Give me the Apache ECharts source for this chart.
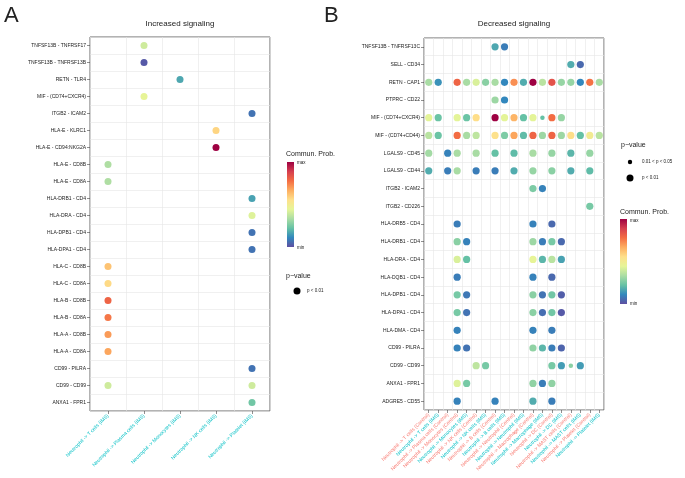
<!DOCTYPE html>
<html><head><meta charset="utf-8">
<script src="https://cdn.jsdelivr.net/npm/echarts@6/dist/echarts.min.js"></script>
<style>html,body{margin:0;padding:0;background:#fff}#c{width:685px;height:478px}</style>
</head><body><div id="c"></div>
<script>
// ---------- DATA ----------
const leftCols = ['Neutrophil -> T cells (IMS)','Neutrophil -> Plasma cells (IMS)','Neutrophil -> Monocytes (IMS)','Neutrophil -> NK cells (IMS)','Neutrophil -> Platelet (IMS)'];
const leftRows = ['TNFSF13B - TNFRSF17','TNFSF13B - TNFRSF13B','RETN - TLR4','MIF - (CD74+CXCR4)','ITGB2 - ICAM2','HLA-E - KLRC1','HLA-E - CD94:NKG2A','HLA-E - CD8B','HLA-E - CD8A','HLA-DRB1 - CD4','HLA-DRA - CD4','HLA-DPB1 - CD4','HLA-DPA1 - CD4','HLA-C - CD8B','HLA-C - CD8A','HLA-B - CD8B','HLA-B - CD8A','HLA-A - CD8B','HLA-A - CD8A','CD99 - PILRA','CD99 - CD99','ANXA1 - FPR1'];
// communication probability (scaled 0 = min, 1 = max), one array per row, null = no interaction
const leftProb = [
  [null,0.40,null,null,null],
  [null,0.02,null,null,null],
  [null,null,0.17,null,null],
  [null,0.45,null,null,null],
  [null,null,null,null,0.07],
  [null,null,null,0.58,null],
  [null,null,null,1.00,null],
  [0.34,null,null,null,null],
  [0.34,null,null,null,null],
  [null,null,null,null,0.16],
  [null,null,null,null,0.43],
  [null,null,null,null,0.07],
  [null,null,null,null,0.07],
  [0.62,null,null,null,null],
  [0.57,null,null,null,null],
  [0.80,null,null,null,null],
  [0.76,null,null,null,null],
  [0.70,null,null,null,null],
  [0.68,null,null,null,null],
  [null,null,null,null,0.07],
  [0.40,null,null,null,0.40],
  [null,null,null,null,0.24]
];

const rightCols = ['Neutrophil -> T cells (Control)','Neutrophil -> T cells (IMS)','Neutrophil -> Plasma cells (Control)','Neutrophil -> Monocytes (Control)','Neutrophil -> Monocytes (IMS)','Neutrophil -> NK cells (Control)','Neutrophil -> NK cells (IMS)','Neutrophil -> B cells (Control)','Neutrophil -> B cells (IMS)','Neutrophil -> Neutrophil (Control)','Neutrophil -> Neutrophil (IMS)','Neutrophil -> Macrophage (Control)','Neutrophil -> Macrophage (IMS)','Neutrophil -> DC (Control)','Neutrophil -> DC (IMS)','Neutrophil -> MAST cells (Control)','Neutrophil -> MAST cells (IMS)','Neutrophil -> Platelet (Control)','Neutrophil -> Platelet (IMS)'];
const rightRows = ['TNFSF13B - TNFRSF13C','SELL - CD34','RETN - CAP1','PTPRC - CD22','MIF - (CD74+CXCR4)','MIF - (CD74+CD44)','LGALS9 - CD45','LGALS9 - CD44','ITGB2 - ICAM2','ITGB2 - CD226','HLA-DRB5 - CD4','HLA-DRB1 - CD4','HLA-DRA - CD4','HLA-DQB1 - CD4','HLA-DPB1 - CD4','HLA-DPA1 - CD4','HLA-DMA - CD4','CD99 - PILRA','CD99 - CD99','ANXA1 - FPR1','ADGRE5 - CD55'];
const _ = null;
const rightProb = [
  [_,_,_,_,_,_,_,0.17,0.09,_,_,_,_,_,_,_,_,_,_],
  [_,_,_,_,_,_,_,_,_,_,_,_,_,_,_,0.18,0.05,_,_],
  [0.33,0.13,_,0.80,0.33,0.42,0.28,0.33,0.11,0.72,0.18,1.00,0.36,0.84,0.30,0.30,0.11,0.77,0.33],
  [_,_,_,_,_,_,_,0.31,0.11,_,_,_,_,_,_,_,_,_,_],
  [0.44,0.23,_,0.44,0.23,0.56,_,1.00,0.44,0.65,0.22,0.44,0.22,0.78,0.30,_,_,_,_],
  [0.36,0.23,_,0.78,0.33,0.37,_,0.55,0.26,0.68,0.21,0.80,0.31,0.80,0.31,0.56,0.22,0.50,0.36],
  [0.32,_,0.10,0.33,_,0.33,_,0.22,_,0.21,_,0.33,_,0.30,_,0.20,_,0.30,_],
  [0.18,_,0.09,0.33,_,0.09,_,0.09,_,0.18,_,0.30,_,0.28,_,0.18,_,0.21,_],
  [_,_,_,_,_,_,_,_,_,_,_,0.26,0.10,_,_,_,_,_,_],
  [_,_,_,_,_,_,_,_,_,_,_,_,_,_,_,_,_,0.25,_],
  [_,_,_,0.09,_,_,_,_,_,_,_,0.10,_,0.05,_,_,_,_,_],
  [_,_,_,0.28,0.10,_,_,_,_,_,_,0.31,0.09,0.25,0.05,_,_,_,_],
  [_,_,_,0.42,0.22,_,_,_,_,_,_,0.45,0.20,0.36,0.16,_,_,_,_],
  [_,_,_,0.09,_,_,_,_,_,_,_,0.10,_,0.05,_,_,_,_,_],
  [_,_,_,0.25,0.08,_,_,_,_,_,_,0.28,0.07,0.24,0.03,_,_,_,_],
  [_,_,_,0.25,0.07,_,_,_,_,_,_,0.28,0.06,0.24,0.02,_,_,_,_],
  [_,_,_,0.10,_,_,_,_,_,_,_,0.10,_,0.09,_,_,_,_,_],
  [_,_,_,0.10,0.07,_,_,_,_,_,_,0.29,0.20,0.09,0.04,_,_,_,_],
  [_,_,_,_,_,0.37,0.25,_,_,_,_,_,_,0.25,0.15,0.28,0.15,_,_],
  [_,_,_,0.43,0.25,_,_,_,_,_,_,0.29,0.09,0.29,_,_,_,_,_],
  [_,_,_,0.10,_,_,_,0.10,_,_,_,0.18,_,0.09,_,_,_,_,_]
];
// p-value class: interactions with 0.01 < p < 0.05 (all others p < 0.01)
const rightWeakP = [['MIF - (CD74+CXCR4)','Neutrophil -> Macrophage (IMS)'],['CD99 - CD99','Neutrophil -> MAST cells (Control)']];

const spectral = ['#5E4FA2','#3288BD','#66C2A5','#ABDDA4','#E6F598','#FEE08B','#FDAE61','#F46D43','#D53E4F','#9E0142'];

// ---------- BUILD ----------
function build(rows, cols, prob, weak){
  const out = [];
  rows.forEach((r, ri) => prob[ri].forEach((v, ci) => {
    if (v == null) return;
    const isWeak = weak.some(w => w[0] === r && w[1] === cols[ci]);
    out.push([ci, ri, v, isWeak ? 2 : 3]);
  }));
  return out;
}
const leftData = build(leftRows, leftCols, leftProb, []);
const rightData = build(rightRows, rightCols, rightProb, rightWeakP);

const FONT = 'Liberation Sans, Arial, sans-serif';
const PINK = '#F8766D', CYAN = '#00BFC4';
const gridLine = {show:true, lineStyle:{color:'#e6e6e6', width:0.6}};

function xAxisFor(gi, cols){
  return {type:'category', gridIndex:gi, data:cols, boundaryGap:true,
    axisLine:{show:false}, axisTick:{show:true, alignWithLabel:true, length:3, lineStyle:{color:'#444', width:0.6}},
    splitLine:gridLine,
    axisLabel:{interval:0, rotate:45, fontSize:5, fontFamily:FONT, margin:4,
      color:(v)=> (String(v).indexOf('(Control)')>=0 ? PINK : CYAN)}};
}
function yAxisFor(gi, rows){
  return {type:'category', gridIndex:gi, data:rows, inverse:true, boundaryGap:true,
    axisLine:{show:false}, axisTick:{show:true, alignWithLabel:true, length:3, lineStyle:{color:'#444', width:0.6}},
    splitLine:gridLine,
    axisLabel:{interval:0, fontSize:5, fontFamily:FONT, color:'#222', margin:4}};
}

const chart = echarts.init(document.getElementById('c'), null, {renderer:'canvas'});
const barGrad = (x,y,w,h)=>({type:'rect', shape:{x, y, width:w, height:h},
  style:{fill:new echarts.graphic.LinearGradient(0,0,0,1, spectral.slice().reverse().map((c,i,a)=>({offset:i/(a.length-1), color:c})))}});
const txt = (text,x,y,size,extra)=>Object.assign({type:'text', style:Object.assign({text, x, y, fontSize:size, fontFamily:FONT, fill:'#222',
  textAlign:'left', textVerticalAlign:'middle', align:'left', verticalAlign:'middle'}, extra||{})});
const dot = (x,y,r)=>({type:'circle', shape:{cx:x, cy:y, r}, style:{fill:'#000'}});

chart.setOption({
  animation:false,
  backgroundColor:'#fff',
  grid:[
    {left:90, top:37, width:180, height:374, show:true, borderColor:'#666', borderWidth:1},
    {left:424, top:38, width:180, height:372, show:true, borderColor:'#666', borderWidth:1}
  ],
  xAxis:[xAxisFor(0,leftCols), xAxisFor(1,rightCols)],
  yAxis:[yAxisFor(0,leftRows), yAxisFor(1,rightRows)],
  visualMap:{type:'continuous', show:false, min:0, max:1, dimension:2, seriesIndex:[0,1], inRange:{color:spectral}},
  series:[
    {type:'scatter', xAxisIndex:0, yAxisIndex:0, data:leftData, symbolSize:(v)=> v[3]===3 ? 7 : 4.5, itemStyle:{opacity:1}},
    {type:'scatter', xAxisIndex:1, yAxisIndex:1, data:rightData, symbolSize:(v)=> v[3]===3 ? 7.2 : 4.5, itemStyle:{opacity:1}}
  ],
  graphic:[
    txt('A', 4, 16, 22),
    txt('Increased signaling', 180, 24, 8, {textAlign:'center', align:'center'}),
    txt('B', 324, 16, 22),
    txt('Decreased signaling', 514, 24, 8, {textAlign:'center', align:'center'}),
    // left legends
    txt('Commun. Prob.', 286, 154, 7),
    barGrad(287, 162, 7, 85),
    txt('max', 297, 163, 4.5),
    txt('min', 297, 248, 4.5),
    txt('p\u2212value', 286, 276, 7),
    dot(297, 291, 3.5),
    txt('p < 0.01', 307, 291, 4.5),
    // right legends
    txt('p\u2212value', 621, 145, 7),
    dot(630, 162, 2.2),
    txt('0.01 < p < 0.05', 642, 162, 4.5),
    dot(630, 178, 3.5),
    txt('p < 0.01', 642, 178, 4.5),
    txt('Commun. Prob.', 620, 212, 7),
    barGrad(620, 219, 7, 85),
    txt('max', 630, 221, 4.5),
    txt('min', 630, 304, 4.5)
  ]
});
</script></body></html>
